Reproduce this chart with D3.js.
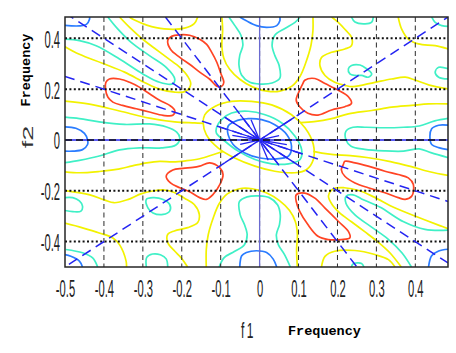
<!DOCTYPE html>
<html><head><meta charset="utf-8">
<script src="https://cdn.jsdelivr.net/npm/d3@7"></script>
<style>html,body{margin:0;padding:0;background:#fff;} svg{display:block;}</style>
</head><body>
<svg id="c" width="456" height="353"></svg>
<script>
// ---------- tick labels ----------
const xTicks = [-0.5,-0.4,-0.3,-0.2,-0.1,0,0.1,0.2,0.3,0.4];
const yTicks = [-0.4,-0.2,0,0.2,0.4];
const xTickLabels = ["-0.5","-0.4","-0.3","-0.2","-0.1","0","0.1","0.2","0.3","0.4"];
const yTickLabels = ["-0.4","-0.2","0","0.2","0.4"];

// ---------- contour lines [f1, f2] ----------
// blue level
const blueTopLeft = [[-0.502,0.451],[-0.463,0.449],[-0.445,0.455],[-0.437,0.475],[-0.437,0.484]];
const blueTopMid = [[-0.051,0.484],[-0.034,0.469],[-0.008,0.450],[0.018,0.443],[0.044,0.450],[0.052,0.469],[0.052,0.484]];
const blueBotMid = [[-0.051,-0.5],[-0.046,-0.456],[-0.034,-0.443],[-0.008,-0.436],[0.018,-0.443],[0.035,-0.469],[0.044,-0.5]];
const blueBotRight = [[0.434,-0.5],[0.442,-0.456],[0.46,-0.437],[0.485,-0.43]];
const blueBotLeft = [[-0.502,-0.451],[-0.485,-0.458],[-0.463,-0.477],[-0.455,-0.5]];
const blueLobeL = [[-0.502,0.052],[-0.472,0.046],[-0.450,0.026],[-0.442,0],[-0.442,-0.018],[-0.455,-0.038],[-0.480,-0.044],[-0.502,-0.044]];
const blueLobeR = [[0.485,0.058],[0.46,0.058],[0.442,0.044],[0.438,0.0],[0.442,-0.018],[0.46,-0.03],[0.485,-0.038]];
const blueCenter = [[-0.081,0.054],[-0.064,0.073],[-0.029,0.084],[0.005,0.080],[0.039,0.060],[0.070,0.021],[0.082,-0.025],[0.074,-0.064],[0.039,-0.075],[0.001,-0.071],[-0.038,-0.051],[-0.068,-0.018],[-0.081,0.021]];

// cyan level
const cyanTL = [[-0.39,0.484],[-0.364,0.436],[-0.330,0.384],[-0.283,0.332],[-0.240,0.286],[-0.218,0.240],[-0.223,0.221],[-0.257,0.227],[-0.300,0.260],[-0.360,0.319],[-0.420,0.371],[-0.463,0.391],[-0.502,0.397]];
const cyanBR = [[0.390,-0.5],[0.366,-0.445],[0.330,-0.390],[0.285,-0.340],[0.245,-0.295],[0.222,-0.250],[0.222,-0.222],[0.240,-0.216],[0.262,-0.232],[0.310,-0.265],[0.370,-0.322],[0.425,-0.352],[0.485,-0.355]];
const cyanTopU = [[-0.079,0.484],[-0.064,0.451],[-0.048,0.412],[-0.043,0.373],[-0.051,0.333],[-0.053,0.294],[-0.046,0.255],[-0.025,0.227],[0.001,0.220],[0.032,0.224],[0.052,0.243],[0.050,0.294],[0.039,0.333],[0.032,0.373],[0.039,0.412],[0.065,0.439],[0.091,0.463],[0.104,0.484]];
const cyanBotU = [[0.079,-0.5],[0.064,-0.451],[0.048,-0.412],[0.043,-0.373],[0.051,-0.333],[0.053,-0.294],[0.046,-0.255],[0.025,-0.227],[-0.001,-0.220],[-0.032,-0.224],[-0.052,-0.243],[-0.050,-0.294],[-0.039,-0.333],[-0.032,-0.373],[-0.039,-0.412],[-0.065,-0.439],[-0.091,-0.463],[-0.104,-0.5]];
const cyanLobeL = [[-0.502,0.090],[-0.463,0.084],[-0.412,0.071],[-0.347,0.061],[-0.283,0.063],[-0.239,0.051],[-0.213,0.031],[-0.205,0.008],[-0.215,-0.020],[-0.252,-0.031],[-0.309,-0.031],[-0.360,-0.039],[-0.412,-0.063],[-0.463,-0.080],[-0.502,-0.090]];
const cyanLobeR = [[0.485,0.085],[0.45,0.075],[0.41,0.055],[0.37,0.05],[0.32,0.048],[0.275,0.05],[0.24,0.05],[0.222,0.035],[0.222,0.0],[0.235,-0.025],[0.27,-0.037],[0.32,-0.043],[0.37,-0.044],[0.41,-0.035],[0.44,-0.05],[0.485,-0.07]];
const cyanSmallUR = [[0.228,0.280],[0.236,0.293],[0.258,0.295],[0.275,0.280],[0.288,0.260],[0.279,0.247],[0.262,0.254],[0.245,0.254],[0.232,0.260]];
const cyanSmallLL = [[-0.291,-0.234],[-0.274,-0.227],[-0.248,-0.234],[-0.231,-0.254],[-0.231,-0.280],[-0.248,-0.293],[-0.274,-0.287],[-0.287,-0.267]];
const cyanEdgeR = [[0.485,0.280],[0.460,0.286],[0.451,0.267],[0.460,0.247],[0.485,0.240]];
const cyanEdgeL = [[-0.502,-0.227],[-0.480,-0.227],[-0.463,-0.240],[-0.455,-0.260],[-0.459,-0.280],[-0.480,-0.282],[-0.502,-0.277]];
const cyanCornerTR = [[0.442,0.484],[0.451,0.463],[0.468,0.450],[0.485,0.447]];
const cyanCornerBL = [[-0.498,-0.431],[-0.455,-0.444],[-0.429,-0.464],[-0.416,-0.5]];
const cyanTopSmall = [[0.236,0.484],[0.245,0.464],[0.271,0.457],[0.288,0.464],[0.292,0.484]];
const cyanBotSmall = [[-0.291,-0.5],[-0.290,-0.462],[-0.275,-0.449],[-0.255,-0.452],[-0.240,-0.468],[-0.236,-0.5]];
const cyanBotTiny = [[0.236,-0.5],[0.240,-0.488],[0.262,-0.486],[0.268,-0.5]];
const cyanCenter = [[-0.111,0.047],[-0.098,0.080],[-0.072,0.106],[-0.029,0.113],[0.014,0.099],[0.057,0.067],[0.091,0.015],[0.108,-0.038],[0.104,-0.077],[0.074,-0.094],[0.031,-0.094],[-0.012,-0.077],[-0.055,-0.044],[-0.089,-0.005],[-0.111,0.027]];

// yellow level
const yellowCenter = [[-0.141,0.099],[-0.115,0.132],[-0.072,0.152],[-0.021,0.152],[0.031,0.138],[0.082,0.099],[0.117,0.047],[0.138,-0.018],[0.138,-0.077],[0.121,-0.116],[0.091,-0.129],[0.039,-0.123],[-0.012,-0.103],[-0.064,-0.071],[-0.107,-0.031],[-0.137,0.021],[-0.145,0.067]];
const yellowTopL = [[-0.335,0.484],[-0.320,0.471],[-0.290,0.452],[-0.245,0.437],[-0.193,0.440],[-0.168,0.458],[-0.159,0.484]];
const yellowBotR = [[0.159,-0.5],[0.168,-0.458],[0.193,-0.438],[0.245,-0.435],[0.296,-0.451],[0.331,-0.471],[0.348,-0.5]];
const yellowWrapTL = [[-0.360,0.484],[-0.334,0.443],[-0.303,0.400],[-0.270,0.361],[-0.236,0.322],[-0.205,0.286],[-0.185,0.251],[-0.177,0.220],[-0.190,0.192],[-0.218,0.188],[-0.257,0.200],[-0.293,0.224],[-0.347,0.267],[-0.404,0.302],[-0.463,0.337],[-0.502,0.369]];
const yellowWrapBR = [[0.364,-0.5],[0.334,-0.443],[0.303,-0.400],[0.270,-0.361],[0.236,-0.322],[0.205,-0.286],[0.185,-0.251],[0.177,-0.220],[0.190,-0.192],[0.218,-0.188],[0.257,-0.200],[0.293,-0.224],[0.347,-0.267],[0.404,-0.302],[0.463,-0.337],[0.485,-0.35]];
const yellowTopMid = [[-0.097,0.484],[-0.095,0.431],[-0.097,0.373],[-0.092,0.322],[-0.077,0.278],[-0.051,0.239],[-0.017,0.208],[0.019,0.192],[0.052,0.192],[0.083,0.212],[0.104,0.251],[0.119,0.306],[0.132,0.373],[0.137,0.431],[0.137,0.484]];
const yellowBotMid = [[0.097,-0.5],[0.095,-0.431],[0.097,-0.373],[0.092,-0.322],[0.077,-0.278],[0.051,-0.239],[0.017,-0.208],[-0.019,-0.192],[-0.052,-0.192],[-0.083,-0.212],[-0.104,-0.251],[-0.119,-0.306],[-0.132,-0.373],[-0.137,-0.431],[-0.137,-0.5]];
const yellowUR = [[0.185,0.484],[0.202,0.463],[0.219,0.436],[0.236,0.404],[0.236,0.371],[0.219,0.358],[0.185,0.345],[0.159,0.325],[0.155,0.293],[0.168,0.254],[0.193,0.227],[0.219,0.215],[0.240,0.210],[0.296,0.227],[0.339,0.240],[0.374,0.247],[0.399,0.236],[0.436,0.216],[0.485,0.201]];
const yellowLL = [[-0.185,-0.5],[-0.202,-0.463],[-0.219,-0.436],[-0.236,-0.404],[-0.236,-0.371],[-0.219,-0.358],[-0.185,-0.345],[-0.159,-0.325],[-0.155,-0.293],[-0.168,-0.254],[-0.193,-0.229],[-0.219,-0.207],[-0.245,-0.197],[-0.275,-0.201],[-0.305,-0.212],[-0.339,-0.235],[-0.374,-0.247],[-0.399,-0.236],[-0.436,-0.216],[-0.502,-0.199]];
const yellowCornerTR = [[0.356,0.484],[0.365,0.436],[0.382,0.397],[0.408,0.378],[0.451,0.371],[0.485,0.358]];
const yellowCornerBL = [[-0.502,-0.327],[-0.455,-0.346],[-0.412,-0.366],[-0.377,-0.386],[-0.360,-0.412],[-0.343,-0.477],[-0.342,-0.5]];
const yellowLeftUp = [[-0.502,0.153],[-0.437,0.141],[-0.360,0.114],[-0.283,0.086],[-0.218,0.071],[-0.167,0.067],[-0.143,0.065]];
const yellowLeftLow = [[-0.502,-0.125],[-0.463,-0.129],[-0.412,-0.124],[-0.368,-0.116],[-0.327,-0.102],[-0.290,-0.090],[-0.257,-0.084],[-0.223,-0.086],[-0.190,-0.082],[-0.154,-0.074],[-0.12,-0.058],[-0.095,-0.046]];
const yellowRightUp = [[0.485,0.142],[0.434,0.142],[0.391,0.136],[0.339,0.129],[0.288,0.116],[0.228,0.103],[0.185,0.084],[0.14,0.072],[0.105,0.068]];
const yellowRightLow = [[0.485,-0.140],[0.437,-0.125],[0.39,-0.105],[0.336,-0.085],[0.28,-0.070],[0.233,-0.062],[0.19,-0.058],[0.16,-0.052],[0.138,-0.045]];

// red level
const redUL1 = [[-0.236,0.392],[-0.226,0.408],[-0.205,0.414],[-0.180,0.412],[-0.154,0.396],[-0.136,0.376],[-0.123,0.345],[-0.110,0.306],[-0.100,0.263],[-0.092,0.227],[-0.097,0.212],[-0.110,0.212],[-0.128,0.239],[-0.154,0.267],[-0.180,0.298],[-0.205,0.325],[-0.229,0.357]];
const redLR1 = [[0.094,-0.216],[0.116,-0.209],[0.142,-0.229],[0.168,-0.268],[0.202,-0.320],[0.228,-0.360],[0.232,-0.385],[0.210,-0.392],[0.176,-0.392],[0.150,-0.379],[0.124,-0.333],[0.103,-0.281],[0.094,-0.242]];
const redUL2 = [[-0.395,0.227],[-0.386,0.240],[-0.360,0.240],[-0.334,0.227],[-0.309,0.208],[-0.283,0.182],[-0.257,0.156],[-0.231,0.136],[-0.218,0.116],[-0.223,0.097],[-0.248,0.097],[-0.283,0.110],[-0.317,0.123],[-0.352,0.136],[-0.377,0.149],[-0.390,0.169],[-0.396,0.201]];
const redLR2 = [[0.215,-0.097],[0.219,-0.084],[0.245,-0.090],[0.279,-0.103],[0.322,-0.123],[0.356,-0.136],[0.382,-0.149],[0.395,-0.175],[0.391,-0.221],[0.374,-0.234],[0.356,-0.227],[0.322,-0.208],[0.279,-0.188],[0.245,-0.169],[0.219,-0.143],[0.210,-0.117]];
const redUR = [[0.116,0.235],[0.142,0.242],[0.168,0.222],[0.202,0.196],[0.228,0.170],[0.236,0.144],[0.219,0.131],[0.185,0.118],[0.150,0.098],[0.124,0.105],[0.103,0.131],[0.094,0.157],[0.103,0.196],[0.111,0.222]];
const redLL = [[-0.240,-0.142],[-0.223,-0.118],[-0.197,-0.112],[-0.171,-0.108],[-0.154,-0.103],[-0.128,-0.090],[-0.102,-0.110],[-0.094,-0.136],[-0.102,-0.175],[-0.120,-0.215],[-0.137,-0.234],[-0.154,-0.227],[-0.180,-0.204],[-0.205,-0.188],[-0.229,-0.169]];

// dark blue ray lines through the origin [f1a, f2a, f1b, f2b]
const rays = [[-0.49,-0.49,0.484,0.484],[-0.5,0.5,0.484,-0.484],[-0.5,0.25,0.484,-0.242],[-0.242,0.484,0.25,-0.5]];
const zeroRow = [-0.5,0,0.484,0];
const zeroCol = [0,-0.5,0,0.484];
const starSpokes = [[-0.09,-0.09,0.09,0.09],[-0.09,0.09,0.09,-0.09],[-0.11,0.055,0.11,-0.055],[-0.05,0.10,0.05,-0.10],[-0.07,0.018,0.07,-0.018],[-0.022,0.08,0.022,-0.08],[-0.05,-0.017,0.05,0.017]];

// ---------- drawing ----------
const W = 456, H = 353;
const x = d3.scaleLinear().domain([-0.5, 0.484]).range([65, 448]);
const y = d3.scaleLinear().domain([-0.5, 0.484]).range([267, 17]);
const svg = d3.select("#c");
svg.append("rect").attr("width", W).attr("height", H).attr("fill", "#fff");
svg.append("defs").append("clipPath").attr("id", "clip")
  .append("rect").attr("x", 65).attr("y", 17).attr("width", 383).attr("height", 250);
const plot = svg.append("g").attr("clip-path", "url(#clip)");

const openLine = d3.line().x(d => x(d[0])).y(d => y(d[1])).curve(d3.curveCatmullRom.alpha(0.5));
const closedLine = d3.line().x(d => x(d[0])).y(d => y(d[1])).curve(d3.curveCatmullRomClosed.alpha(0.5));

const levels = [
  {color: "#f2f200", open: [yellowTopL, yellowBotR, yellowWrapTL, yellowWrapBR, yellowTopMid, yellowBotMid, yellowUR, yellowLL, yellowCornerTR, yellowCornerBL, yellowLeftUp, yellowLeftLow, yellowRightUp, yellowRightLow], closed: [yellowCenter]},
  {color: "#3ff0c6", open: [cyanTL, cyanBR, cyanTopU, cyanBotU, cyanLobeL, cyanLobeR, cyanEdgeR, cyanEdgeL, cyanCornerTR, cyanCornerBL, cyanTopSmall, cyanBotSmall, cyanBotTiny], closed: [cyanSmallUR, cyanSmallLL, cyanCenter]},
  {color: "#2a7cff", open: [blueTopLeft, blueTopMid, blueBotMid, blueBotRight, blueBotLeft, blueLobeL, blueLobeR], closed: [blueCenter]},
  {color: "#ff4424", open: [], closed: [redUL1, redLR1, redUL2, redLR2, redUR, redLL]}
];
levels.forEach(lv => {
  const g = plot.append("g").attr("fill", "none").attr("stroke", lv.color).attr("stroke-width", 1.7).attr("stroke-linejoin", "round");
  g.selectAll("path.o").data(lv.open).join("path").attr("class", "o").attr("d", openLine);
  g.selectAll("path.c").data(lv.closed).join("path").attr("class", "c").attr("d", closedLine);
});

// grid
const grid = plot.append("g");
grid.selectAll("line.v").data(xTicks.filter(v => v > -0.5)).join("line").attr("class", "v")
  .attr("x1", d => x(d)).attr("x2", d => x(d)).attr("y1", y(0.484)).attr("y2", y(-0.5))
  .attr("stroke", "#2b2b2b").attr("stroke-width", 1).attr("stroke-dasharray", "5,3.5");
grid.selectAll("line.h").data(yTicks.filter(v => v !== 0)).join("line").attr("class", "h")
  .attr("y1", d => y(d)).attr("y2", d => y(d)).attr("x1", x(-0.5)).attr("x2", x(0.484))
  .attr("stroke", "#111").attr("stroke-width", 2).attr("stroke-dasharray", "2,2.4");

// dark-blue lines
const rayG = plot.append("g").attr("stroke", "#2424f2").attr("fill", "none");
rayG.append("line").attr("x1", x(zeroCol[0])).attr("y1", y(zeroCol[1])).attr("x2", x(zeroCol[2])).attr("y2", y(zeroCol[3]))
  .attr("stroke", "#6a6ad0").attr("stroke-width", 1.3);
rayG.append("line").attr("x1", x(zeroRow[0])).attr("y1", y(zeroRow[1])).attr("x2", x(zeroRow[2])).attr("y2", y(zeroRow[3]))
  .attr("stroke-width", 1.6);
rayG.selectAll("line.r").data(rays).join("line").attr("class", "r")
  .attr("x1", d => x(d[0])).attr("y1", d => y(d[1])).attr("x2", d => x(d[2])).attr("y2", d => y(d[3]))
  .attr("stroke-width", 1.5).attr("stroke-dasharray", "10,6");
rayG.selectAll("line.s").data(starSpokes).join("line").attr("class", "s")
  .attr("x1", d => x(d[0])).attr("y1", d => y(d[1])).attr("x2", d => x(d[2])).attr("y2", d => y(d[3]))
  .attr("stroke-width", 1.3);
// black dashes over the zero row
plot.append("line").attr("x1", x(-0.5)).attr("x2", x(0.484)).attr("y1", y(0)).attr("y2", y(0))
  .attr("stroke", "#111").attr("stroke-width", 1.6).attr("stroke-dasharray", "7,4");

// frame
svg.append("rect").attr("x", 65).attr("y", 17).attr("width", 383).attr("height", 250)
  .attr("fill", "none").attr("stroke", "#262626").attr("stroke-width", 1.5);

// axes with stretched narrow labels
const xAxis = svg.append("g").attr("transform", "translate(0,267)")
  .call(d3.axisBottom(x).tickValues(xTicks).tickSize(0).tickFormat((d, i) => xTickLabels[i]));
xAxis.select(".domain").remove();
xAxis.attr("font-family", "'Liberation Sans', Arial, sans-serif").attr("font-size", 16);
xAxis.selectAll("text").attr("y", 0).attr("dy", 0).attr("fill", "#222")
  .attr("transform", "translate(0,29.5) scale(0.7,1.45)");

const yAxis = svg.append("g").attr("transform", "translate(65,0)")
  .call(d3.axisLeft(y).tickValues(yTicks).tickSize(0).tickFormat((d, i) => yTickLabels[i]));
yAxis.select(".domain").remove();
yAxis.attr("font-family", "'Liberation Sans', Arial, sans-serif").attr("font-size", 16);
yAxis.selectAll("text").attr("x", 0).attr("dy", 0).attr("fill", "#222")
  .attr("transform", "translate(-5,9) scale(0.7,1.45)");

// axis titles
svg.append("text").attr("transform", "translate(241,338) scale(0.8,1.45)")
  .attr("font-family", "'Liberation Sans', Arial, sans-serif").attr("font-size", 15)
  .attr("letter-spacing", 3).attr("fill", "#222").text("f1");
svg.append("text").attr("x", 288).attr("y", 335)
  .attr("font-family", "'Liberation Mono', 'Courier New', monospace").attr("font-weight", "bold")
  .attr("font-size", 13.5).attr("fill", "#000").text("Frequency");
svg.append("text").attr("transform", "translate(33,137) rotate(-90) scale(1.6,0.9)")
  .attr("text-anchor", "middle").attr("letter-spacing", 0)
  .attr("font-family", "'Liberation Sans', Arial, sans-serif").attr("font-size", 17)
  .attr("fill", "#333").text("f2");
svg.append("text").attr("transform", "translate(30,70) rotate(-90)")
  .attr("text-anchor", "middle")
  .attr("font-family", "'Liberation Mono', 'Courier New', monospace").attr("font-weight", "bold")
  .attr("font-size", 13.5).attr("fill", "#000").text("Frequency");
</script>
</body></html>
